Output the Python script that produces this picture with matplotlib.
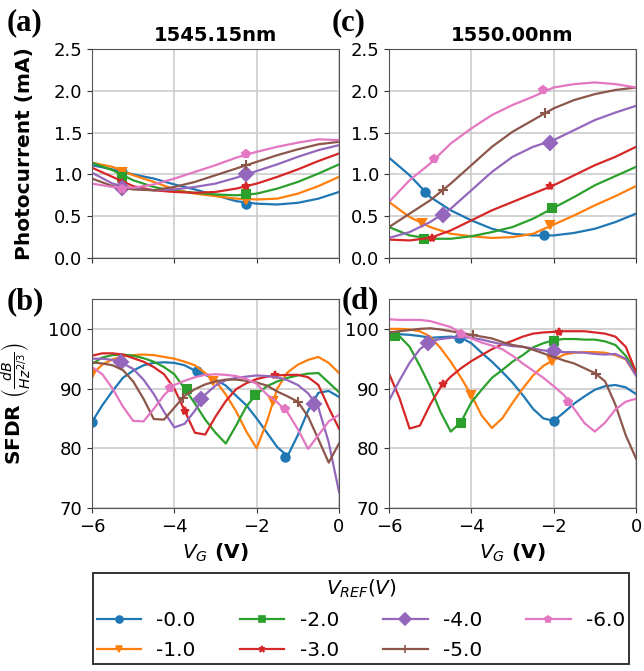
import matplotlib
matplotlib.use('Agg')
import matplotlib.pyplot as plt
from matplotlib.lines import Line2D

# V_REF series
vref_labels = ['-0.0', '-1.0', '-2.0', '-3.0', '-4.0', '-5.0', '-6.0']
colors = ['#1f77b4', '#ff7f0e', '#2ca02c', '#d62728', '#9467bd', '#8c564b', '#e377c2']
markers = ['o', 'v', 's', '*', 'D', '+', 'p']
msizes = [6, 6, 6, 6, 7, 7, 5.5]

# gate voltage samples
vg_pc = [-6.0, -5.5, -5.0, -4.5, -4.0, -3.5, -3.0, -2.5, -2.0, -1.5, -1.0, -0.5, 0.0]
vg_sfdr = [-6.0, -5.75, -5.5, -5.25, -5.0, -4.75, -4.5, -4.25, -4.0, -3.75, -3.5, -3.25,
           -3.0, -2.75, -2.5, -2.25, -2.0, -1.75, -1.5, -1.25, -1.0, -0.75, -0.5, -0.25, 0.0]

# (a) photocurrent at 1545.15nm (mA)
pc_1545 = [
    [1.11, 1.06, 1.00, 0.95, 0.88, 0.82, 0.75, 0.68, 0.65, 0.64, 0.66, 0.71, 0.79],
    [1.14, 1.09, 0.99, 0.91, 0.82, 0.77, 0.74, 0.71, 0.70, 0.71, 0.77, 0.86, 0.97],
    [1.14, 1.05, 0.93, 0.85, 0.80, 0.78, 0.76, 0.75, 0.77, 0.83, 0.91, 1.01, 1.12],
    [1.08, 0.97, 0.86, 0.81, 0.79, 0.78, 0.79, 0.83, 0.89, 0.97, 1.06, 1.16, 1.25],
    [1.02, 0.89, 0.83, 0.81, 0.82, 0.85, 0.89, 0.96, 1.04, 1.12, 1.21, 1.29, 1.35],
    [0.95, 0.86, 0.82, 0.81, 0.85, 0.91, 0.99, 1.07, 1.15, 1.23, 1.30, 1.36, 1.39],
    [0.89, 0.85, 0.84, 0.88, 0.95, 1.03, 1.11, 1.20, 1.27, 1.33, 1.38, 1.42, 1.41],
]
pc_1545_marks = [
    [(-5.27, 1.03), (-2.26, 0.65)],
    [(-5.27, 1.03), (-2.26, 0.69)],
    [(-5.27, 0.97), (-2.26, 0.76)],
    [(-5.27, 0.90), (-2.26, 0.86)],
    [(-5.27, 0.84), (-2.26, 1.00)],
    [(-5.27, 0.83), (-2.26, 1.11)],
    [(-5.27, 0.83), (-2.26, 1.24)],
]

# (c) photocurrent at 1550.00nm (mA)
pc_1550 = [
    [1.20, 0.99, 0.73, 0.57, 0.45, 0.35, 0.29, 0.27, 0.27, 0.30, 0.35, 0.43, 0.53],
    [0.67, 0.49, 0.37, 0.29, 0.26, 0.24, 0.25, 0.29, 0.40, 0.51, 0.63, 0.74, 0.86],
    [0.37, 0.27, 0.23, 0.23, 0.26, 0.31, 0.37, 0.47, 0.60, 0.73, 0.87, 0.98, 1.09],
    [0.22, 0.21, 0.24, 0.33, 0.45, 0.57, 0.67, 0.77, 0.87, 0.99, 1.11, 1.21, 1.33],
    [0.24, 0.31, 0.43, 0.59, 0.81, 1.03, 1.21, 1.33, 1.41, 1.53, 1.65, 1.74, 1.82],
    [0.37, 0.53, 0.69, 0.89, 1.11, 1.33, 1.51, 1.65, 1.79, 1.89, 1.96, 2.01, 2.04],
    [0.67, 0.93, 1.13, 1.37, 1.55, 1.71, 1.83, 1.93, 2.04, 2.08, 2.10, 2.08, 2.04],
]
pc_1550_marks = [
    [(-5.13, 0.79), (-2.24, 0.27)],
    [(-5.2, 0.42), (-2.1, 0.39)],
    [(-5.15, 0.23), (-2.05, 0.60)],
    [(-4.96, 0.24), (-2.1, 0.86)],
    [(-4.7, 0.51), (-2.1, 1.37)],
    [(-4.7, 0.81), (-2.2, 1.74)],
    [(-4.9, 1.19), (-2.26, 2.01)],
]

# (b) SFDR at 1545.15nm (dB/Hz^2/3)
sfdr_1545 = [
    [84.4, 87.2, 89.6, 91.8, 93.0, 93.9, 94.3, 94.4, 94.3, 93.9, 93.0, 92.3,
     91.5, 90.5, 88.8, 87.2, 85.0, 82.6, 80.2, 78.7, 82.2, 86.3, 89.3, 89.6, 88.6],
    [92.4, 94.0, 94.9, 95.4, 95.6, 95.7, 95.6, 95.3, 95.0, 94.5, 93.9, 92.6,
     91.3, 89.0, 86.2, 82.8, 80.0, 84.5, 90.0, 92.7, 94.0, 94.8, 95.3, 94.3, 92.6],
    [94.1, 95.2, 95.6, 95.7, 95.5, 95.1, 94.5, 93.6, 92.4, 90.0, 87.5, 84.8,
     82.6, 80.8, 83.8, 87.0, 89.1, 90.4, 91.2, 91.8, 92.2, 92.5, 92.6, 91.0, 89.4],
    [95.5, 95.9, 95.9, 95.7, 95.1, 94.5, 93.6, 92.4, 90.0, 86.3, 82.6, 82.3,
     85.3, 87.9, 89.9, 90.9, 91.6, 92.0, 92.2, 92.3, 92.3, 91.9, 90.6, 86.8, 83.3],
    [95.0, 95.0, 94.8, 94.2, 93.3, 91.5, 89.1, 86.1, 83.5, 84.1, 86.3, 89.0,
     90.5, 91.4, 91.8, 92.0, 92.2, 92.1, 91.9, 91.4, 90.6, 89.2, 86.8, 81.0, 72.7],
    [94.4, 94.2, 93.9, 93.1, 91.2, 88.3, 84.9, 84.8, 86.8, 88.8, 89.9, 90.7,
     91.2, 91.5, 91.5, 91.3, 91.0, 90.5, 89.5, 88.7, 87.8, 85.3, 81.5, 77.6, 80.8],
    [93.6, 92.4, 90.0, 87.0, 84.6, 84.5, 86.6, 88.9, 90.6, 91.3, 91.9, 92.3,
     92.4, 92.3, 92.1, 91.6, 90.8, 89.0, 87.7, 86.0, 83.2, 79.9, 82.2, 84.5, 85.6],
]
sfdr_1545_marks = [
    [(-6.0, 84.4), (-3.45, 92.9), (-1.3, 78.5)],
    [(-6.0, 92.4), (-3.05, 91.2), (-1.6, 88.0)],
    [(-3.7, 90.0), (-2.05, 89.0)],
    [(-3.75, 86.2), (-1.55, 92.2)],
    [(-5.3, 94.4), (-3.36, 88.2), (-0.6, 87.4)],
    [(-3.8, 88.5), (-1.0, 87.7)],
    [(-4.1, 90.1), (-1.3, 86.5)],
]

# (d) SFDR at 1550.00nm (dB/Hz^2/3)
sfdr_1550 = [
    [99.0, 99.1, 99.0, 98.8, 98.5, 98.6, 98.7, 98.5, 97.6, 96.0, 94.5, 92.8,
     91.0, 88.9, 86.6, 85.0, 84.6, 86.0, 87.5, 88.7, 89.8, 90.4, 90.6, 90.2, 89.1],
    [100.0, 100.0, 99.9, 99.6, 98.7, 96.8, 94.5, 91.8, 88.9, 85.5, 83.4, 85.0,
     87.6, 90.0, 92.2, 93.8, 94.8, 95.7, 96.0, 96.1, 96.1, 96.0, 95.6, 94.9, 92.2],
    [99.0, 98.8, 97.0, 93.8, 90.3, 86.1, 82.8, 84.4, 87.7, 89.8, 91.8, 93.1,
     94.5, 95.6, 96.9, 97.6, 98.1, 98.3, 98.3, 98.2, 98.2, 97.9, 97.3, 95.5, 92.8],
    [92.5, 88.5, 83.3, 83.8, 87.3, 90.2, 92.0, 93.4, 94.6, 95.6, 96.6, 97.4,
     98.0, 98.7, 99.2, 99.4, 99.5, 99.6, 99.6, 99.6, 99.4, 99.2, 98.7, 97.0, 92.8],
    [88.0, 91.3, 94.3, 96.6, 97.9, 98.3, 98.5, 98.6, 98.5, 98.2, 97.8, 97.4,
     97.1, 97.0, 96.7, 96.4, 96.2, 96.1, 96.1, 96.0, 95.8, 95.7, 95.8, 95.0, 92.2],
    [99.4, 99.6, 99.8, 100.0, 100.1, 99.9, 99.6, 99.3, 99.0, 98.7, 98.4, 97.8,
     97.3, 97.0, 96.5, 95.9, 95.3, 94.7, 94.2, 93.4, 92.6, 91.2, 87.3, 82.2, 78.3],
    [101.6, 101.5, 101.5, 101.5, 101.3, 100.8, 100.3, 99.3, 98.4, 97.7, 97.2, 96.6,
     95.5, 94.2, 93.0, 91.8, 90.4, 88.9, 86.6, 84.2, 82.8, 84.3, 86.5, 87.8, 88.3],
]
sfdr_1550_marks = [
    [(-4.3, 98.5), (-2.0, 84.6)],
    [(-4.0, 88.9), (-2.05, 94.6)],
    [(-5.85, 98.8), (-4.25, 84.3), (-2.0, 98.0)],
    [(-4.68, 90.7), (-1.87, 99.5)],
    [(-5.06, 97.7), (-2.0, 96.3)],
    [(-3.95, 98.9), (-0.96, 92.5)],
    [(-4.25, 99.2), (-1.64, 87.8)],
]


def draw_panel(ax, x, curves, marks):
    for i, y in enumerate(curves):
        ax.plot(x, y, color=colors[i], lw=1.6)
        mx = [p[0] for p in marks[i]]
        my = [p[1] for p in marks[i]]
        ax.plot(mx, my, ls='none', marker=markers[i], ms=msizes[i],
                color=colors[i], mew=1.5)
    ax.set_xlim(-6, 0)
    ax.set_xticks([-6, -4, -2, 0])
    ax.grid(True, color='#cccccc', lw=1.2)
    ax.set_axisbelow(True)
    ax.tick_params(labelsize=13, color='#333333')
    for s in ax.spines.values():
        s.set_color('#555555')


W, H = 644, 671
fig = plt.figure(figsize=(W / 100, H / 100), dpi=100)

def box(l, t, r, b):
    return [l / W, 1 - b / H, (r - l) / W, (b - t) / H]

ax_a = fig.add_axes(box(92, 49, 339, 258))
ax_c = fig.add_axes(box(389, 49, 636, 258))
ax_b = fig.add_axes(box(92, 299, 339, 508))
ax_d = fig.add_axes(box(389, 299, 636, 508))

draw_panel(ax_a, vg_pc, pc_1545, pc_1545_marks)
draw_panel(ax_c, vg_pc, pc_1550, pc_1550_marks)
draw_panel(ax_b, vg_sfdr, sfdr_1545, sfdr_1545_marks)
draw_panel(ax_d, vg_sfdr, sfdr_1550, sfdr_1550_marks)

for ax in (ax_a, ax_c):
    ax.set_ylim(0, 2.5)
    ax.set_yticks([0.0, 0.5, 1.0, 1.5, 2.0, 2.5])
    ax.tick_params(labelbottom=False)
for ax in (ax_b, ax_d):
    ax.set_ylim(70, 105)
    ax.set_yticks([70, 80, 90, 100])
    ax.set_xlabel(r'$V_G$ (V)', fontsize=14.5, fontweight='bold')

ax_a.set_title('1545.15nm', fontsize=14, fontweight='bold', pad=6)
ax_c.set_title('1550.00nm', fontsize=14, fontweight='bold', pad=6)
ax_a.set_ylabel('Photocurrent (mA)', fontsize=14.5, fontweight='bold')
ax_b.set_ylabel(r'SFDR $\left(\frac{dB}{Hz^{2/3}}\right)$', fontsize=14.5, fontweight='bold')
ax_a.yaxis.set_label_coords(-0.235, 0.5)
ax_b.yaxis.set_label_coords(-0.235, 0.5)

letter_font = dict(family='Liberation Serif', fontsize=22, fontweight='bold')
fig.text(7 / W, 1 - 30 / H, '(a)', **letter_font)
fig.text(332 / W, 1 - 30 / H, '(c)', **letter_font)
fig.text(7 / W, 1 - 309 / H, '(b)', **letter_font)
fig.text(342 / W, 1 - 308 / H, '(d)', **letter_font)

handles = [Line2D([], [], color=colors[i], marker=markers[i], ms=msizes[i] - 1, lw=1.6, mew=1.2)
           for i in range(len(vref_labels))]
leg = fig.legend(handles, vref_labels, loc='lower left',
                 bbox_to_anchor=(93 / W, 1 - 664 / H), ncol=4,
                 title=r'$V_{REF}(V)$', fontsize=14.5, title_fontsize=14.5,
                 frameon=True, fancybox=False, edgecolor='black',
                 borderaxespad=0, borderpad=0.2, columnspacing=2.2, handletextpad=0.75,
                 handlelength=2.2, labelspacing=0.55)
leg.get_frame().set_linewidth(1.4)

fig.savefig('out.png', dpi=100)
